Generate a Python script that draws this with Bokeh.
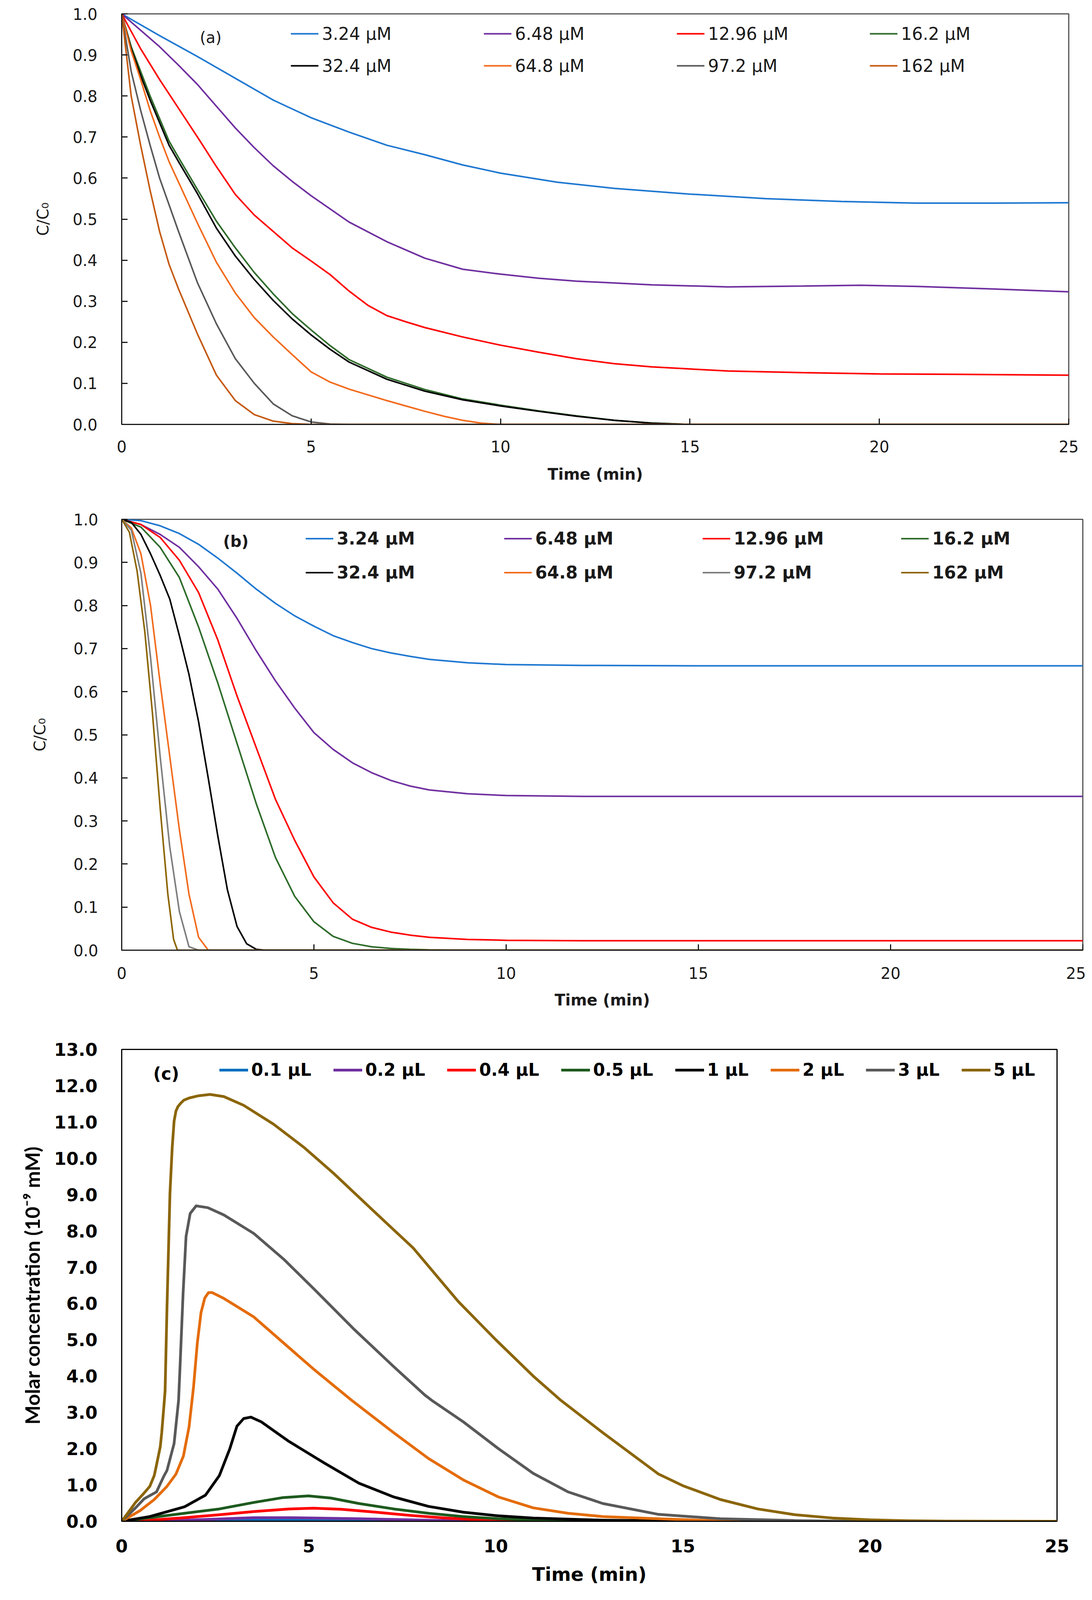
import numpy as np
from bokeh.plotting import figure
from bokeh.models import Range1d, FixedTicker, Legend, LegendItem, Label, NumeralTickFormatter
from bokeh.layouts import column
from bokeh.embed import file_html
from bokeh.resources import INLINE

# ---------------- datos panel (a) ----------------
A_LABELS = ["3.24 µM", "6.48 µM", "12.96 µM", "16.2 µM",
            "32.4 µM", "64.8 µM", "97.2 µM", "162 µM"]

a_t_1 = [0, 1, 2, 3, 4, 5, 6, 7, 8, 9, 10, 11.5, 13, 15, 17, 19, 21, 23, 25]
a_y_1 = [1.0, 0.947, 0.896, 0.843, 0.79, 0.747, 0.712, 0.68, 0.657, 0.632, 0.612,
         0.59, 0.575, 0.561, 0.55, 0.543, 0.539, 0.539, 0.54]

a_t_2 = [0, 0.5, 1, 1.5, 2, 2.5, 3, 3.5, 4, 4.5, 5, 6, 7, 8, 9, 10, 11, 12, 14, 16,
         18, 19.5, 21, 23, 25]
a_y_2 = [1.0, 0.96, 0.92, 0.875, 0.828, 0.775, 0.722, 0.674, 0.63, 0.592, 0.557,
         0.493, 0.445, 0.405, 0.378, 0.366, 0.356, 0.349, 0.34, 0.335, 0.337, 0.339,
         0.336, 0.33, 0.323]

a_t_3 = [0, 0.5, 1, 1.5, 2, 2.5, 3, 3.5, 4, 4.5, 5, 5.5, 6, 6.5, 7, 7.5, 8, 9, 10,
         11, 12, 13, 14, 15, 16, 18, 20, 22, 25]
a_y_3 = [1.0, 0.915, 0.84, 0.77, 0.70, 0.628, 0.56, 0.51, 0.47, 0.43, 0.398, 0.365,
         0.325, 0.29, 0.265, 0.25, 0.236, 0.213, 0.193, 0.176, 0.16, 0.148, 0.14,
         0.135, 0.13, 0.126, 0.123, 0.122, 0.12]

a_t_4 = [0, 0.25, 0.5, 0.75, 1, 1.25, 1.5, 2, 2.5, 3, 3.5, 4, 4.5, 5, 5.5, 6, 7, 8,
         9, 10, 11, 12, 13, 14, 15, 25]
a_y_4 = [1.0, 0.92, 0.86, 0.80, 0.745, 0.69, 0.65, 0.572, 0.495, 0.43, 0.37, 0.318,
         0.27, 0.23, 0.192, 0.158, 0.115, 0.085, 0.062, 0.047, 0.033, 0.021, 0.01,
         0.003, 0.0, 0.0]

a_t_5 = a_t_4
a_y_5 = [1.0, 0.915, 0.85, 0.79, 0.735, 0.68, 0.64, 0.562, 0.478, 0.41, 0.353, 0.302,
         0.257, 0.218, 0.183, 0.152, 0.11, 0.081, 0.06, 0.045, 0.032, 0.02, 0.01,
         0.003, 0.0, 0.0]

a_t_6 = [0, 0.25, 0.5, 0.75, 1, 1.25, 1.5, 2, 2.5, 3, 3.5, 4, 4.5, 5, 5.5, 6, 6.5,
         7, 7.5, 8, 8.5, 9, 9.5, 10, 25]
a_y_6 = [1.0, 0.91, 0.84, 0.765, 0.70, 0.64, 0.59, 0.49, 0.395, 0.32, 0.26, 0.213,
         0.17, 0.128, 0.103, 0.086, 0.072, 0.058, 0.045, 0.032, 0.02, 0.01, 0.003,
         0.0, 0.0]

a_t_7 = [0, 0.25, 0.5, 0.75, 1, 1.5, 2, 2.5, 3, 3.5, 4, 4.5, 5, 5.5, 6, 25]
a_y_7 = [1.0, 0.86, 0.765, 0.68, 0.60, 0.47, 0.345, 0.245, 0.16, 0.1, 0.05, 0.021,
         0.006, 0.001, 0.0, 0.0]

a_t_8 = [0, 0.25, 0.5, 0.75, 1, 1.25, 1.5, 2, 2.5, 3, 3.5, 4, 4.5, 5, 25]
a_y_8 = [1.0, 0.80, 0.68, 0.57, 0.47, 0.39, 0.33, 0.22, 0.12, 0.058, 0.024, 0.008,
         0.002, 0.0, 0.0]

# ---------------- datos panel (b) ----------------
B_LABELS = A_LABELS

b_t_1 = [0, 0.5, 1, 1.5, 2, 2.5, 3, 3.5, 4, 4.5, 5, 5.5, 6, 6.5, 7, 7.5, 8, 9, 10,
         12, 15, 20, 25]
b_y_1 = [1.0, 0.997, 0.985, 0.967, 0.942, 0.91, 0.875, 0.838, 0.805, 0.776, 0.752,
         0.73, 0.714, 0.70, 0.69, 0.682, 0.675, 0.667, 0.663, 0.661, 0.66, 0.66, 0.66]

b_t_2 = [0, 0.5, 1, 1.5, 2, 2.5, 3, 3.5, 4, 4.5, 5, 5.5, 6, 6.5, 7, 7.5, 8, 9, 10,
         12, 15, 25]
b_y_2 = [1.0, 0.988, 0.965, 0.935, 0.89, 0.838, 0.77, 0.695, 0.625, 0.562, 0.505,
         0.466, 0.435, 0.412, 0.394, 0.381, 0.372, 0.363, 0.359, 0.357, 0.357, 0.357]

b_t_3 = [0, 0.5, 1, 1.5, 2, 2.5, 3, 3.5, 4, 4.5, 5, 5.5, 6, 6.5, 7, 7.5, 8, 9, 10,
         12, 25]
b_y_3 = [1.0, 0.988, 0.958, 0.905, 0.83, 0.72, 0.59, 0.47, 0.35, 0.255, 0.17, 0.11,
         0.072, 0.053, 0.042, 0.035, 0.03, 0.025, 0.023, 0.022, 0.022]

b_t_4 = [0, 0.5, 1, 1.5, 2, 2.5, 3, 3.5, 4, 4.5, 5, 5.5, 6, 6.5, 7, 7.5, 8, 9, 25]
b_y_4 = [1.0, 0.982, 0.935, 0.865, 0.75, 0.62, 0.48, 0.34, 0.215, 0.125, 0.066,
         0.032, 0.016, 0.008, 0.004, 0.002, 0.001, 0.0, 0.0]

b_t_5 = [0, 0.25, 0.5, 0.75, 1, 1.25, 1.5, 1.75, 2, 2.25, 2.5, 2.75, 3, 3.25, 3.5,
         3.75, 25]
b_y_5 = [1.0, 0.993, 0.965, 0.92, 0.87, 0.815, 0.73, 0.64, 0.53, 0.40, 0.265, 0.14,
         0.055, 0.015, 0.002, 0.0, 0.0]

b_t_6 = [0, 0.25, 0.5, 0.75, 1, 1.25, 1.5, 1.75, 2, 2.25, 25]
b_y_6 = [1.0, 0.98, 0.92, 0.80, 0.62, 0.45, 0.28, 0.13, 0.03, 0.0, 0.0]

b_t_7 = [0, 0.25, 0.5, 0.75, 1, 1.25, 1.5, 1.75, 2, 25]
b_y_7 = [1.0, 0.975, 0.875, 0.68, 0.45, 0.24, 0.09, 0.008, 0.0, 0.0]

b_t_8 = [0, 0.2, 0.4, 0.6, 0.8, 1.0, 1.2, 1.35, 1.45, 25]
b_y_8 = [1.0, 0.97, 0.88, 0.74, 0.55, 0.33, 0.13, 0.025, 0.0, 0.0]

# ---------------- datos panel (c) ----------------
C_LABELS = ["0.1 µL", "0.2 µL", "0.4 µL", "0.5 µL", "1 µL", "2 µL", "3 µL", "5 µL"]

c_t_1 = [0, 3.54, 5.5, 7.5, 8.5, 25]
c_y_1 = [0, 0.035, 0.03, 0.01, 0.0, 0.0]

c_t_2 = [0, 1.68, 3.54, 4.47, 6.34, 8.2, 9.13, 11, 25]
c_y_2 = [0, 0.03, 0.1, 0.1, 0.07, 0.03, 0.01, 0.0, 0.0]

c_t_3 = [0, 0.75, 1.68, 2.61, 3.54, 4.47, 5.13, 5.87, 6.8, 7.74, 8.67, 9.6, 10.5, 12, 25]
c_y_3 = [0, 0.03, 0.1, 0.18, 0.27, 0.34, 0.36, 0.33, 0.25, 0.16, 0.09, 0.04, 0.015,
         0.0, 0.0]

c_t_4 = [0, 0.75, 1.68, 2.61, 3.54, 4.29, 4.99, 5.59, 6.34, 7.27, 8.2, 9.13, 10.07,
         11.0, 12.4, 14, 25]
c_y_4 = [0, 0.1, 0.22, 0.34, 0.52, 0.65, 0.70, 0.64, 0.49, 0.34, 0.22, 0.13, 0.07,
         0.04, 0.01, 0.0, 0.0]

c_t_5 = [0, 0.75, 1.68, 2.24, 2.61, 2.89, 3.08, 3.26, 3.45, 3.73, 4.47, 5.41, 6.34,
         7.27, 8.2, 9.13, 10.07, 11.0, 12.86, 14.35, 16, 25]
c_y_5 = [0, 0.13, 0.4, 0.72, 1.26, 2.0, 2.62, 2.83, 2.87, 2.74, 2.2, 1.61, 1.05,
         0.67, 0.41, 0.25, 0.15, 0.09, 0.03, 0.015, 0.0, 0.0]

c_t_6 = [0, 0.5, 0.87, 1.2, 1.45, 1.65, 1.8, 1.92, 2.02, 2.12, 2.22, 2.32, 2.42,
         2.73, 3.53, 4.33, 5.12, 6.15, 7.27, 8.2, 9.13, 10.07, 11.0, 11.93, 12.86,
         14.35, 16, 17, 25]
c_y_6 = [0, 0.3, 0.6, 0.95, 1.3, 1.8, 2.6, 3.7, 4.9, 5.75, 6.15, 6.3, 6.3, 6.14,
         5.63, 4.91, 4.2, 3.33, 2.44, 1.73, 1.14, 0.67, 0.37, 0.22, 0.13, 0.07,
         0.01, 0.0, 0.0]

c_t_7 = [0, 0.37, 0.6, 0.93, 1.13, 1.21, 1.4, 1.52, 1.56, 1.64, 1.72, 1.83, 1.99,
         2.3, 2.73, 3.53, 4.33, 5.12, 6.19, 7.25, 8.1, 8.29, 9.13, 10.07, 11.0,
         11.93, 12.86, 14.35, 16, 18, 19.5, 25]
c_y_7 = [0, 0.37, 0.62, 0.81, 1.25, 1.4, 2.14, 3.33, 4.28, 6.26, 7.85, 8.48, 8.69,
         8.64, 8.44, 7.93, 7.22, 6.42, 5.31, 4.28, 3.48, 3.33, 2.74, 2.0, 1.32,
         0.81, 0.49, 0.19, 0.07, 0.02, 0.0, 0.0]

c_t_8 = [0, 0.37, 0.6, 0.75, 0.87, 0.93, 1.03, 1.07, 1.13, 1.16, 1.21, 1.29, 1.35,
         1.40, 1.45, 1.50, 1.58, 1.66, 1.8, 2.04, 2.36, 2.73, 3.26, 4.06, 4.86,
         5.66, 6.72, 7.79, 9, 10, 11, 11.74, 12.86, 14.35, 15, 16, 17, 18, 19, 20,
         21, 22, 25]
c_y_8 = [0, 0.52, 0.78, 0.96, 1.26, 1.55, 2.05, 2.44, 3.2, 3.6, 5.87, 9.04, 10.3,
         11.02, 11.3, 11.42, 11.52, 11.6, 11.66, 11.72, 11.76, 11.7, 11.46, 10.94,
         10.31, 9.59, 8.56, 7.53, 6.05, 5.0, 4.0, 3.33, 2.44, 1.3, 0.98, 0.6, 0.34,
         0.18, 0.09, 0.04, 0.015, 0.005, 0.0]

X_TICKS = [0, 5, 10, 15, 20, 25]

# colores
A_COLORS = ["#1F78D1", "#7030A0", "#FF0000", "#2E6B2A", "#000000", "#F26B1D", "#595959", "#C55A11"]
B_COLORS = ["#1F78D1", "#7030A0", "#FF0000", "#2E6B2A", "#000000", "#F26B1D", "#7F7F7F", "#8C6400"]
C_COLORS = ["#0070C0", "#7030A0", "#FF0000", "#1E5A1E", "#000000", "#E46C0A", "#595959", "#8B6508"]

A_SERIES = [(a_t_1, a_y_1), (a_t_2, a_y_2), (a_t_3, a_y_3), (a_t_4, a_y_4),
            (a_t_5, a_y_5), (a_t_6, a_y_6), (a_t_7, a_y_7), (a_t_8, a_y_8)]
B_SERIES = [(b_t_1, b_y_1), (b_t_2, b_y_2), (b_t_3, b_y_3), (b_t_4, b_y_4),
            (b_t_5, b_y_5), (b_t_6, b_y_6), (b_t_7, b_y_7), (b_t_8, b_y_8)]
C_SERIES = [(c_t_1, c_y_1), (c_t_2, c_y_2), (c_t_3, c_y_3), (c_t_4, c_y_4),
            (c_t_5, c_y_5), (c_t_6, c_y_6), (c_t_7, c_y_7), (c_t_8, c_y_8)]

FONT = "DejaVu Sans"
W = 2779
VS = 0.826   # escala vertical: la captura corta hacia ~4100 px


def v(x):
    return int(round(x * VS))


def make_fig(fw, fh, left, top, bottom, ymax, yticks):
    p = figure(frame_width=fw, frame_height=v(fh),
               min_border_left=left, min_border_right=W - left - fw,
               min_border_top=v(top), min_border_bottom=v(bottom),
               x_range=Range1d(0, 25), y_range=Range1d(0, ymax),
               output_backend="svg", toolbar_location=None)
    p.xgrid.visible = False
    p.ygrid.visible = False
    p.xaxis.ticker = FixedTicker(ticks=X_TICKS, minor_ticks=[])
    p.yaxis.ticker = FixedTicker(ticks=yticks, minor_ticks=[])
    p.yaxis.formatter = NumeralTickFormatter(format="0.0")
    for ax in (p.xaxis[0], p.yaxis[0]):
        ax.axis_line_width = 3
        ax.axis_line_color = "#1a1a1a"
        ax.major_tick_line_width = 3
        ax.major_tick_line_color = "#1a1a1a"
        ax.major_tick_out = 0
        ax.minor_tick_line_color = None
        ax.major_label_text_color = "#1a1a1a"
        ax.axis_label_text_color = "#1a1a1a"
        ax.major_label_text_font = FONT
    p.outline_line_width = 3
    return p


def style_ab(p, ystand, xstand, ytitle_stand, xtitle_stand):
    for ax in (p.xaxis[0], p.yaxis[0]):
        ax.major_tick_in = 15
        ax.major_label_text_font_size = "40px"
        ax.axis_label_text_font = FONT
    p.xaxis.axis_label = "Time (min)"
    p.xaxis.axis_label_text_font_style = "bold"
    p.xaxis.axis_label_text_font_size = "40px"
    p.yaxis.axis_label = "C/C₀"
    p.yaxis.axis_label_text_font_style = "normal"
    p.yaxis.axis_label_text_font_size = "40px"
    p.yaxis.major_label_standoff = ystand
    p.xaxis.major_label_standoff = v(xstand)
    p.yaxis.axis_label_standoff = ytitle_stand
    p.xaxis.axis_label_standoff = v(xtitle_stand)
    p.outline_line_color = "#555555"


Y_TICKS_AB = [round(0.1 * i, 1) for i in range(11)]

# ---------------- panel (a) ----------------
pa = make_fig(2424, 1273, 300, 42, 217, 1.0, Y_TICKS_AB)
style_ab(pa, 62, 50, 50, 36)
items = []
for (t, y), lab, col in zip(A_SERIES, A_LABELS, A_COLORS):
    r = pa.line(t, y, line_color=col, line_width=4)
    items.append(LegendItem(label=lab, renderers=[r]))
pa.add_layout(Legend(items=items, location=(433, v(1062)), orientation="horizontal", ncols=4,
                     glyph_width=71, glyph_height=v(99), label_height=v(99), label_width=414,
                     label_standoff=9, spacing=0, padding=0, margin=0,
                     border_line_color=None, background_fill_alpha=0,
                     label_text_font=FONT, label_text_font_size="44px",
                     label_text_color="#1a1a1a"))
pa.add_layout(Label(x=2.35, y=0.942, text="(a)", text_align="center", text_baseline="middle",
                    text_font=FONT, text_font_size="40px", text_color="#1a1a1a"))

# ---------------- panel (b) ----------------
pb = make_fig(2460, 1335, 271, 78, 257, 1.0, Y_TICKS_AB)
style_ab(pb, 60, 52, 60, 34)
items = []
for (t, y), lab, col in zip(B_SERIES, B_LABELS, B_COLORS):
    r = pb.line(t, y, line_color=col, line_width=4)
    items.append(LegendItem(label=lab, renderers=[r]))
pb.add_layout(Legend(items=items, location=(471, v(1118)), orientation="horizontal", ncols=4,
                     glyph_width=71, glyph_height=v(105), label_height=v(105), label_width=428,
                     label_standoff=9, spacing=0, padding=0, margin=0,
                     border_line_color=None, background_fill_alpha=0,
                     label_text_font=FONT, label_text_font_size="44px",
                     label_text_font_style="bold", label_text_color="#1a1a1a"))
pb.add_layout(Label(x=2.97, y=0.949, text="(b)", text_align="center", text_baseline="middle",
                    text_font=FONT, text_font_size="40px", text_font_style="bold",
                    text_color="#1a1a1a"))

# ---------------- panel (c) ----------------
pc = make_fig(2394, 1463, 311, 51, 221, 13.0, list(range(14)))
for ax in (pc.xaxis[0], pc.yaxis[0]):
    ax.major_tick_in = 0
    ax.major_label_text_font_size = "45px"
    ax.major_label_text_font_style = "bold"
    ax.axis_line_color = "#000000"
    ax.major_label_text_color = "#000000"
    ax.axis_label_text_color = "#000000"
pc.xaxis.axis_label = "Time (min)"
pc.xaxis.axis_label_text_font = FONT
pc.xaxis.axis_label_text_font_style = "bold"
pc.xaxis.axis_label_text_font_size = "48px"
pc.yaxis.axis_label = "Molar concentration (10⁻⁹ mM)"
pc.yaxis.axis_label_text_font = "Lato"
pc.yaxis.axis_label_text_font_style = "bold"
pc.yaxis.axis_label_text_font_size = "52px"
pc.yaxis.major_label_standoff = 62
pc.xaxis.major_label_standoff = v(56)
pc.yaxis.axis_label_standoff = 22
pc.xaxis.axis_label_standoff = v(30)
pc.outline_line_color = "#000000"
items = []
for (t, y), lab, col in zip(C_SERIES, C_LABELS, C_COLORS):
    r = pc.line(t, y, line_color=col, line_width=7, line_join="round")
    items.append(LegendItem(label=lab, renderers=[r]))
pc.add_layout(Legend(items=items, location=(250, v(1368)), orientation="horizontal",
                     glyph_width=74, glyph_height=v(60), label_height=v(60),
                     label_standoff=8, spacing=56, padding=0, margin=0,
                     border_line_color=None, background_fill_alpha=0,
                     label_text_font=FONT, label_text_font_size="44px",
                     label_text_font_style="bold", label_text_color="#000000"))
pc.add_layout(Label(x=1.19, y=12.33, text="(c)", text_align="center", text_baseline="middle",
                    text_font=FONT, text_font_size="44px", text_font_style="bold",
                    text_color="#000000"))

lay = column(pa, pb, pc, spacing=0)
open("out.html", "w").write(file_html(lay, INLINE))
